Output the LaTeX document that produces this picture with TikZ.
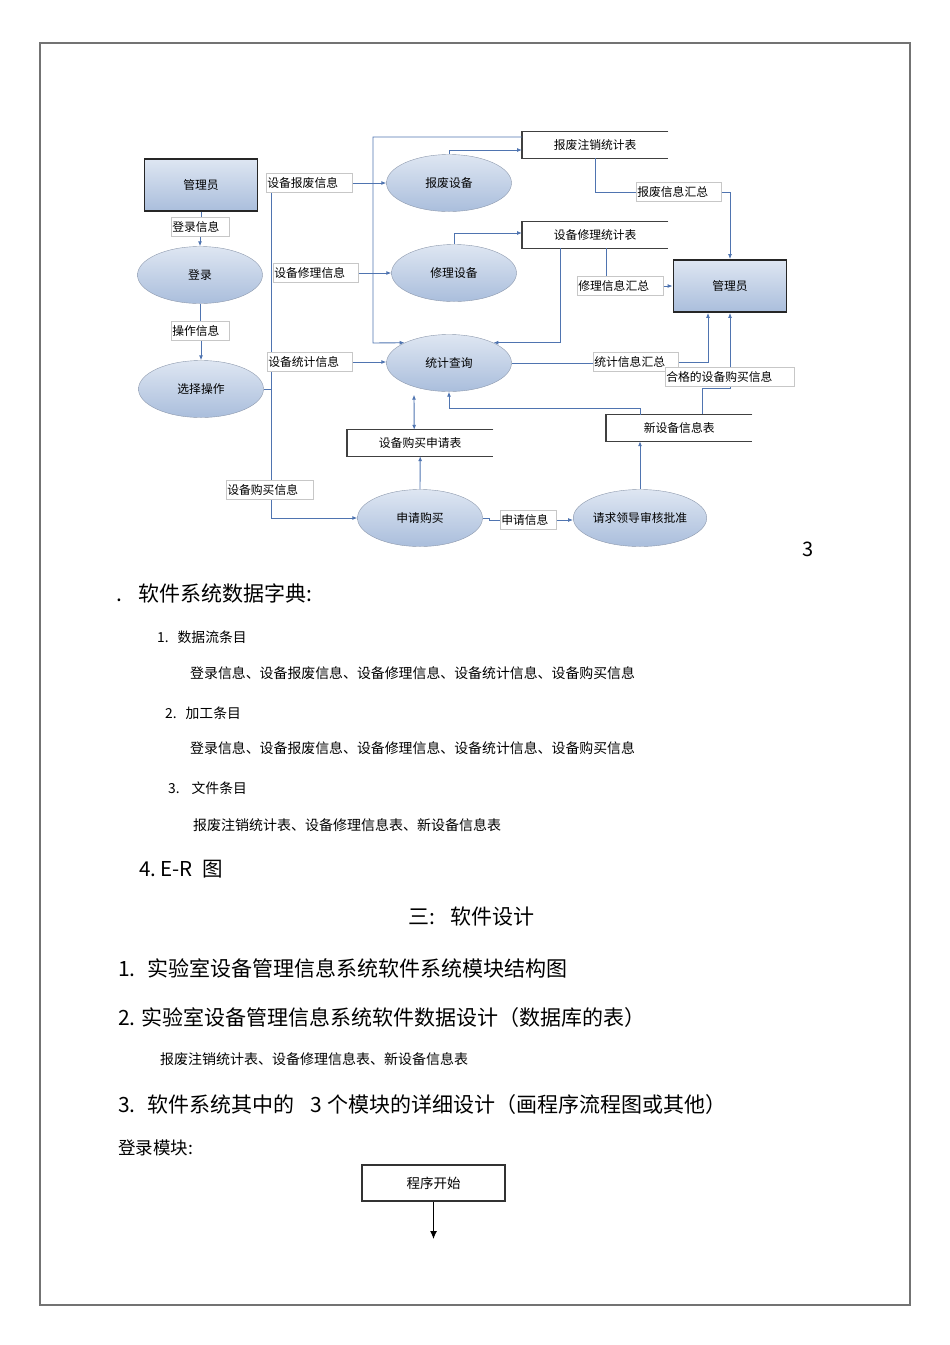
\documentclass[tikz,border=0pt]{standalone}
\usepackage{fontspec}
\setmainfont{Noto Sans CJK SC}
\usetikzlibrary{arrows.meta, positioning, shapes.geometric, backgrounds}

\definecolor{flowblue}{RGB}{79,116,176}
\definecolor{bubbletop}{RGB}{222,230,242}
\definecolor{bubblebot}{RGB}{170,190,220}
\definecolor{bubbleline}{RGB}{140,152,172}

\begin{document}
\begin{tikzpicture}[
    x=1pt, y=-1pt,
    proc/.style={ellipse, draw=bubbleline, top color=bubbletop, bottom color=bubblebot,
        minimum width=125pt, minimum height=57pt, inner sep=0pt, font=\fontsize{11.8}{14}\selectfont},
    ent/.style={draw=black!85, line width=1.8pt, top color=bubbletop, bottom color=bubblebot,
        minimum width=113pt, minimum height=52pt, font=\fontsize{11.8}{14}\selectfont},
    store/.style={anchor=west, minimum width=146pt, minimum height=26pt, inner sep=0pt,
        font=\fontsize{11.8}{14}\selectfont},
    flowlbl/.style={draw=black!22, line width=0.6pt, fill=white, inner sep=1pt, text width=#1,
        minimum height=19pt, anchor=west, align=left, font=\fontsize{11.8}{14}\selectfont},
    arr/.style={-{Latex[length=5pt,width=4pt]}, flowblue, line width=0.9pt},
    dblarr/.style={{Latex[length=5pt,width=4pt]}-{Latex[length=5pt,width=4pt]}, flowblue, line width=0.9pt},
    ln/.style={flowblue, line width=0.9pt},
    head/.style={anchor=west, inner sep=0pt, font=\fontsize{21}{25}\selectfont},
    subhead/.style={anchor=west, inner sep=0pt, font=\fontsize{13.8}{16}\selectfont},
    body/.style={anchor=west, inner sep=0pt, font=\fontsize{13.9}{17}\selectfont}
]
    \useasboundingbox (0,0) rectangle (950,1345);
    \draw[black!55, line width=1.3pt] (40,43) rectangle (910,1305);

    % entities and processes
    \node[ent] (gmL) at (201,185) {管理员};
    \node[proc] (login) at (200,275) {登录};
    \node[proc] (choose) at (201,389) {选择操作};
    \node[proc] (bf) at (449,183) {报废设备};
    \node[proc] (wx) at (454,273) {修理设备};
    \node[proc] (tj) at (449,363) {统计查询};
    \node[proc] (sq) at (420,518) {申请购买};
    \node[proc] (ps) at (640,518) {请求领导审核批准};
    \node[ent] (gmR) at (730,286) {管理员};

    % data stores
    \node[store] (bfb) at (522,145) {报废注销统计表};
    \node[store] (wxb) at (522,235) {设备修理统计表};
    \node[store] (xsb) at (606,428) {新设备信息表};
    \node[store] (gmb) at (347,443) {设备购买申请表};
    \foreach \s in {bfb,wxb,xsb,gmb}
        \draw[black!75, line width=1.3pt] (\s.north east) -- (\s.north west) -- (\s.south west) -- (\s.south east);

    % flow labels
    \node[flowlbl=56pt] (dlxx) at (171,227) {登录信息};
    \node[flowlbl=56pt] (czxx) at (171,331) {操作信息};
    \node[flowlbl=84pt] (bfxx) at (266,183) {设备报废信息};
    \node[flowlbl=83pt] (wxxx) at (273,273) {设备修理信息};
    \node[flowlbl=83pt] (tjxx) at (267,362) {设备统计信息};
    \node[flowlbl=85pt] (gmxx) at (226,490) {设备购买信息};
    \node[flowlbl=83pt] (bfhz) at (636,192) {报废信息汇总};
    \node[flowlbl=84pt] (wxhz) at (577,286) {修理信息汇总};
    \node[flowlbl=83pt] (tjhz) at (593,362) {统计信息汇总};
    \node[flowlbl=127pt] (hgxx) at (665,377) {合格的设备购买信息};
    \node[flowlbl=54pt] (sqxx) at (500,520) {申请信息};

    \coordinate (trunkTop) at ([xshift=5pt]bfxx.south west);
    \coordinate (trunkBot) at (trunkTop |- sq.west);
    \coordinate (loopL) at (373,343);
    \coordinate (bfdrop) at ([xshift=73pt]bfb.south west);
    \coordinate (wxdrop) at ([xshift=84pt]wxb.south west);
    \coordinate (hgdrop) at ([xshift=96pt]xsb.north west);
    \coordinate (hgturn) at (730,388);
    \coordinate (tjback) at (449,408);

    % lines running under the labels
    \begin{pgfonlayer}{background}
        \draw[ln] (trunkTop) -- (trunkBot);
        \draw[ln] (hgdrop) |- (hgturn) -- (hgxx.north -| hgturn);
    \end{pgfonlayer}

    \draw[ln] (gmL.south) -- (dlxx.north -| gmL.south);
    \draw[arr] (dlxx.south -| login.north) -- (login.north);
    \draw[ln] (login.south) -- (czxx.north -| login.south);
    \draw[arr] (czxx.south -| choose.north) -- (choose.north);
    \draw[ln] (choose.east) -- (choose.east -| trunkTop);
    \draw[arr] (trunkBot) -- (sq.west);

    \draw[arr] (bfxx.east) -- (bfxx.east -| bf.west);
    \draw[arr] (wxxx.east) -- (wxxx.east -| wx.west);
    \draw[arr] (tjxx.east) -- (tjxx.east -| tj.west);

    \draw[arr] ([yshift=8pt]bfb.west) -| (loopL) -- (tj.north west);
    \draw[arr] (bf.north) |- ([yshift=-5pt]bfb.west);
    \draw[arr] (wx.north) |- ([yshift=2pt]wxb.west);
    \draw[ln] (bfdrop) |- (bfhz.west);
    \draw[arr] (bfhz.east) -| (gmR.north);
    \draw[arr] ([xshift=38pt]wxb.south west) |- (tj.north east);
    \draw[ln] (wxdrop) -- (wxdrop |- wxhz.north);
    \draw[arr] (wxhz.east) -- (wxhz.east -| gmR.west);

    \draw[ln] (tj.east) -- (tj.east -| tjhz.west);
    \draw[arr] (tjhz.east) -| ([xshift=-22pt]gmR.south);
    \draw[arr] (hgxx.north -| hgturn) -- (gmR.south);

    \draw[arr] ([xshift=34pt]xsb.north west) |- (tjback) -- (tj.south);
    \draw[arr] (ps.north) -- (ps.north |- xsb.south);
    \draw[dblarr] ([xshift=-35pt,yshift=-3pt]tj.south) -- ([xshift=-6pt]gmb.north);
    \draw[arr] (sq.north) -- (gmb.south);
    \draw[ln] (sq.east) -- ++(7,0) |- (sqxx.west);
    \draw[arr] (sqxx.east) -- (sqxx.east -| ps.west);

    \node[inner sep=0pt, font=\fontsize{20}{24}\selectfont] (pnum) at (808,549) {3};

    % text below the diagram
    \node[head] (sec) at (116,593) {.\hspace{16pt}软件系统数据字典:};
    \node[subhead] (it1) at (157,637) {1.\hspace{9pt}数据流条目};
    \node[body] (it1b) at (190,673) {登录信息、设备报废信息、设备修理信息、设备统计信息、设备购买信息};
    \node[subhead] (it2) at (165,713) {2.\hspace{9pt}加工条目};
    \node[body] (it2b) at (190,748) {登录信息、设备报废信息、设备修理信息、设备统计信息、设备购买信息};
    \node[subhead] (it3) at (168,788) {3.\hspace{12pt}文件条目};
    \node[body, font=\fontsize{14}{17}\selectfont] (it3b) at (193,825) {报废注销统计表、设备修理信息表、新设备信息表};
    \node[head, font=\fontsize{20.5}{24}\selectfont] (er) at (139,869) {4.\hspace{4pt}E-R\hspace{10pt}图};
    \node[head] (part3) at (408,917) {三:\hspace{15pt}软件设计};
    \node[head] (d1) at (118,968) {1.\hspace{12pt}实验室设备管理信息系统软件系统模块结构图};
    \node[head] (d2) at (118,1018) {2.\hspace{6pt}实验室设备管理信息系统软件数据设计（数据库的表）};
    \node[body, font=\fontsize{14}{17}\selectfont] (d2b) at (160,1059) {报废注销统计表、设备修理信息表、新设备信息表};
    \node[head] (d3) at (118,1105) {3.\hspace{12pt}软件系统其中的\hspace{16pt}3 个模块的详细设计（画程序流程图或其他）};
    \node[anchor=west, inner sep=0pt, font=\fontsize{17.5}{20}\selectfont] (dlmk) at (118,1148) {登录模块:};

    \node[draw=black!80, line width=1.3pt, minimum width=143pt, minimum height=36pt,
        font=\fontsize{13.5}{16}\selectfont] (start) at (433.5,1183) {程序开始};
    \coordinate (startend) at (433.5,1239);
    \draw[-{Latex[length=8pt,width=7pt]}, line width=1pt] (start.south) -- (startend);
\end{tikzpicture}
\end{document}
